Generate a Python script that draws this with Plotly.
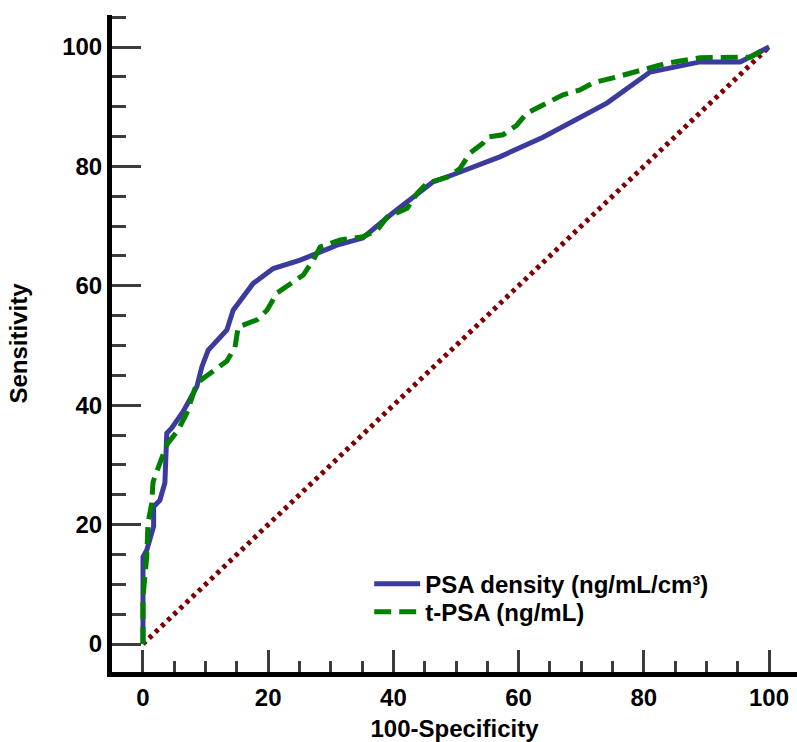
import plotly.graph_objects as go

# 100-Specificity (x) and Sensitivity (y) for each ROC curve
psad_x = [0, 0, 0.6, 1.1, 1.7, 1.7, 2.7, 3.5, 3.8, 3.8, 4.6, 6.4, 8.6, 9.4, 10.4, 13.4, 14.4,
          17.6, 20.8, 25.1, 31.0, 35.1, 39.9, 46.3, 49.5, 57.0, 63.9, 74.1, 81.0, 89.0, 95.4, 100]
psad_y = [0, 14.6, 15.7, 17.4, 19.7, 23.0, 24.1, 27.0, 32.5, 35.3, 36.2, 38.9, 43.1, 46.4, 49.2,
          52.6, 55.9, 60.4, 62.9, 64.3, 66.8, 68.0, 72.2, 77.4, 78.6, 81.6, 84.9, 90.6, 95.8,
          97.5, 97.5, 100]

tpsa_x = [0, 0, 0.6, 0.8, 1.4, 1.6, 2.7, 3.8, 5.6, 7.0, 8.6, 11.0, 13.4, 14.7, 15.2, 18.2, 19.8,
          21.4, 23.5, 25.6, 27.2, 28.3, 31.5, 35.1, 37.4, 39.0, 42.2, 43.8, 45.4, 48.6, 50.6,
          52.2, 54.3, 55.0, 57.5, 59.7, 61.3, 63.9, 67.1, 69.8, 71.9, 75.7, 79.4, 83.7, 89.0,
          94.2, 97.0, 100]
tpsa_y = [0, 7.9, 14.6, 20.2, 23.6, 27.1, 30.3, 33.4, 35.8, 38.7, 43.7, 45.6, 47.4, 49.7, 53.1,
          54.3, 55.9, 58.8, 60.4, 61.8, 64.3, 66.5, 67.7, 68.2, 69.3, 71.5, 73.0, 75.5, 77.2,
          78.2, 79.6, 82.2, 83.9, 84.9, 85.3, 86.9, 88.9, 90.3, 92.0, 92.8, 94.0, 95.0, 96.1,
          97.3, 98.2, 98.2, 98.3, 100]

ref_x = [0, 100]
ref_y = [0, 100]

tick_vals = [0, 20, 40, 60, 80, 100]
tick_text = ["0", "20", "40", "60", "80", "100"]

series_names = ["PSA density (ng/mL/cm³)", "t-PSA (ng/mL)"]

FONT = "Liberation Sans, Arial, sans-serif"
FS = 24

fig = go.Figure()
fig.add_trace(go.Scatter(x=ref_x, y=ref_y, mode="lines", showlegend=False,
                         line=dict(color="#7f0000", width=5, dash="4px,4.5px")))
fig.add_trace(go.Scatter(x=psad_x, y=psad_y, mode="lines", name=series_names[0],
                         legend="legend", line=dict(color="#3b3b9e", width=5)))
fig.add_trace(go.Scatter(x=tpsa_x, y=tpsa_y, mode="lines", name=series_names[1],
                         legend="legend2", line=dict(color="#007f00", width=5, dash="17px,8px")))

axis_common = dict(
    showline=True, linewidth=5, linecolor="black",
    ticks="inside", tickwidth=3, tickcolor="#3c3c3c",
    tickvals=tick_vals, ticktext=tick_text,
    showgrid=False, zeroline=False, automargin=False,
    tickfont=dict(family=FONT, size=FS, color="black", weight="bold"),
)

legend_common = dict(xanchor="left", yanchor="middle", bgcolor="rgba(0,0,0,0)",
                     itemwidth=46,
                     font=dict(family=FONT, size=FS, color="black", weight="bold"))

fig.update_layout(
    width=797, height=742,
    margin=dict(l=112, r=0, t=15, b=70, autoexpand=False),
    paper_bgcolor="white", plot_bgcolor="white",
    xaxis=dict(**axis_common, range=[-4.95, 104.47], ticklen=22,
               minor=dict(dtick=5, ticklen=11, tickwidth=3, tickcolor="#3c3c3c", ticks="inside"),
               title=dict(text="100-Specificity", standoff=15,
                          font=dict(family=FONT, size=FS, color="black", weight="bold"))),
    yaxis=dict(**axis_common, range=[-4.69, 105.36], ticklen=29,
               minor=dict(dtick=5, ticklen=14, tickwidth=3, tickcolor="#3c3c3c", ticks="inside"),
               title=dict(text="Sensitivity", standoff=29,
                          font=dict(family=FONT, size=FS, color="black", weight="bold"))),
    legend=dict(**legend_common, x=0.3755, y=0.1337),
    legend2=dict(**legend_common, x=0.3755, y=0.0912),
    showlegend=True,
)

fig.write_html("out.html",
               config={"displayModeBar": False},
               post_script="document.body.style.margin='0';document.body.style.overflow='hidden';")
